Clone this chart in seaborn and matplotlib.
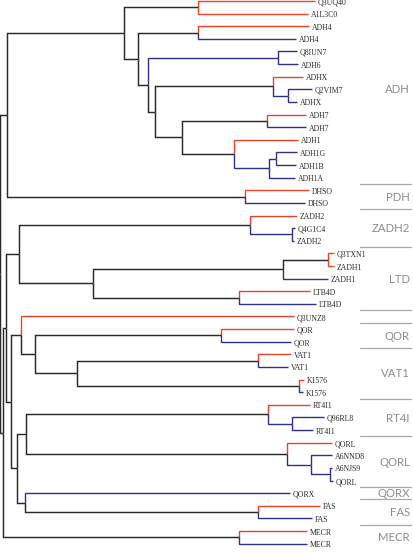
import matplotlib
matplotlib.use('Agg')
import matplotlib.pyplot as plt
import seaborn as sns

# leaves, top to bottom
leaf_labels = ['Q3UQ40', 'A1L3C0', 'ADH4', 'ADH4', 'Q8IUN7', 'ADH6', 'ADHX', 'Q2VIM7', 'ADHX',
               'ADH7', 'ADH7', 'ADH1', 'ADH1G', 'ADH1B', 'ADH1A', 'DHSO', 'DHSO', 'ZADH2',
               'Q4G1C4', 'ZADH2', 'Q3TXN1', 'ZADH1', 'ZADH1', 'LTB4D', 'LTB4D', 'Q3UNZ8', 'QOR',
               'QOR', 'VAT1', 'VAT1', 'K1576', 'K1576', 'RT4I1', 'Q96RL8', 'RT4I1', 'QORL',
               'A6NND8', 'A6NJS9', 'QORL', 'QORX', 'FAS', 'FAS', 'MECR', 'MECR']
leaf_side = ['r', 'r', 'r', 'b', 'b', 'b', 'r', 'b', 'b', 'r', 'b', 'r', 'b', 'b', 'b', 'r', 'b',
             'r', 'b', 'b', 'r', 'r', 'b', 'r', 'b', 'r', 'r', 'b', 'r', 'b', 'r', 'b', 'r', 'b',
             'b', 'r', 'b', 'b', 'b', 'b', 'r', 'b', 'r', 'b']
leaf_tip = [315, 308, 309, 296, 297, 298, 303, 312, 297, 306, 306, 298, 297, 296, 295, 309, 305,
            297, 295, 294, 334, 334, 328, 310, 316, 294, 294, 291, 291, 288, 304, 303, 310, 324,
            313, 332, 332, 332, 333, 290, 320, 312, 307, 307]

# internal nodes (children first), depth
node_names = ['uq', 'adh4', 'adh6', 'adhx2', 'adhx', 'adh7', 'adh1g', 'adh1b', 'adh1', 'n182',
              'n155', 'n148', 'n138', 'adh', 'dhso', 'pdh_adh', 'zadh2b', 'zadh2', 'zadh1r',
              'zadh1', 'ltb4d', 'ltd', 'n19', 'qor', 'vat1', 'k1576', 'n77', 'n35', 'n21', 'rt4b',
              'rt4', 'qorl3', 'qorl2', 'qorl', 'n26', 'fas', 'n25', 'n17', 'n11', 'n5', 'mecr',
              'n3', 'root']
node_depth = [198, 198, 278, 288, 273, 267, 276, 269, 234, 182, 155, 148, 138, 124, 245, 7, 292,
              250, 328, 283, 239, 93, 19, 221, 258, 299, 77, 35, 21, 292, 268, 330, 311, 287, 26,
              258, 25, 17, 11, 6.5, 239, 3.5, 0.4]
node_kids = [(0, 1), (2, 3), (4, 5), (7, 8), (6, 'adhx2'), (9, 10), (12, 13), ('adh1g', 14),
             (11, 'adh1b'), ('adh7', 'adh1'), ('adhx', 'n182'), ('adh6', 'n155'),
             ('adh4', 'n148'), ('uq', 'n138'), (15, 16), ('adh', 'dhso'), (18, 19),
             (17, 'zadh2b'), (20, 21), ('zadh1r', 22), (23, 24), ('zadh1', 'ltb4d'),
             ('zadh2', 'ltd'), (26, 27), (28, 29), (30, 31), ('vat1', 'k1576'), ('qor', 'n77'),
             (25, 'n35'), (33, 34), (32, 'rt4b'), (37, 38), (36, 'qorl3'), (35, 'qorl2'),
             ('rt4', 'qorl'), (40, 41), (39, 'fas'), ('n26', 'n25'), ('n21', 'n17'),
             ('n19', 'n11'), (42, 43), ('n5', 'mecr'), ('pdh_adh', 'n3')]
blue_stems = ['adh6', 'adhx2', 'adh1g', 'adh1b', 'zadh2b', 'rt4b', 'qorl3', 'qorl2']

group_names = ['ADH', 'PDH', 'ZADH2', 'LTD', 'QOR', 'VAT1', 'RT4I', 'QORL', 'QORX', 'FAS', 'MECR']
group_first = [0, 15, 17, 20, 26, 28, 32, 35, 39, 40, 42]
group_last = [14, 16, 19, 24, 27, 31, 34, 38, 39, 41, 43]

RED = '#e8442c'
BLUE = '#2e2e8e'
DARK = '#2a2a2a'

sns.set_theme(style='white')

fig = plt.figure(figsize=(4.14, 5.54), dpi=100)
ax = fig.add_axes([0, 0, 1, 1])
ax.set_xlim(0, 414)
y0, step = 1.0, 12.62
ax.set_ylim((554 - y0) / step, -y0 / step)
ax.axis('off')

# positions and stem colours
pos = {}
col = {}
for i in range(len(leaf_labels)):
    pos[i] = (leaf_tip[i], i)
    col[i] = RED if leaf_side[i] == 'r' else BLUE
for name, x, kids in zip(node_names, node_depth, node_kids):
    ys = [pos[k][1] for k in kids]
    pos[name] = (x, (min(ys) + max(ys)) / 2)
    col[name] = BLUE if name in blue_stems else DARK

# elbows
for name, kids in zip(node_names, node_kids):
    px, py = pos[name]
    for k in kids:
        kx, ky = pos[k]
        c = col[k]
        lw = 1.05 if c == DARK else 1.0
        ax.plot([px, px, kx], [py, ky, ky], color=c, lw=lw,
                solid_joinstyle='miter', solid_capstyle='butt')

for i, lab in enumerate(leaf_labels):
    ax.text(leaf_tip[i] + 3, i + 0.12, lab, fontsize=5.6, family='Liberation Serif',
            color='#2a2a2a', va='center', ha='left')

# group brackets on the right
for g in range(len(group_names)):
    mid = (group_first[g] + group_last[g]) / 2
    ax.text(410, mid + 0.05, group_names[g], fontsize=8.2, family='Lato', color='#8c8c8c',
            ha='right', va='center')
    if g > 0:
        ax.plot([360, 411], [group_first[g] - 0.5] * 2, color='#a8a8a8', lw=0.9)
        if group_last[g - 1] + 1 != group_first[g]:
            ax.plot([360, 411], [group_last[g - 1] + 0.5] * 2, color='#a8a8a8', lw=0.9)

fig.savefig('out.png', dpi=100)
